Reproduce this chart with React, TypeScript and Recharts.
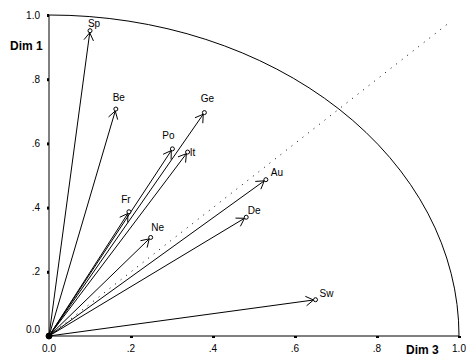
import { ScatterChart, Scatter, XAxis, YAxis, ReferenceLine, ReferenceDot } from 'recharts';

// country vectors: Dim 3 on x, Dim 1 on y
const countries = ['Sp', 'Be', 'Ge', 'Po', 'It', 'Fr', 'Ne', 'Au', 'De', 'Sw'];
const dim3 = [0.1, 0.163, 0.379, 0.301, 0.338, 0.195, 0.248, 0.529, 0.481, 0.65];
const dim1 = [0.951, 0.707, 0.696, 0.583, 0.573, 0.387, 0.307, 0.487, 0.37, 0.113];

const axisTicks = [0, 0.2, 0.4, 0.6, 0.8, 1];
const tickLabels = ['0.0', '.2', '.4', '.6', '.8', '1.0'];
const diagonalEnd = 0.97;

// label nudges (px) relative to each vector's end point
const labelNudge: Record<string, [number, number]> = {
  Sp: [4, -7],
  Be: [3, -12],
  Ge: [3, -14],
  Po: [-4, -13],
  It: [5, 0],
  Fr: [-3, -12],
  Ne: [7, -10],
  Au: [11, -7],
  De: [8, -7],
  Sw: [11, -6],
};

const FONT = '"Liberation Sans", Arial, sans-serif';

const points = countries.map((name, i) => ({ name, x: dim3[i], y: dim1[i] }));

function XTick(props: any) {
  const { x, y, payload } = props;
  const label = tickLabels[axisTicks.indexOf(payload.value)];
  return (
    <g>
      <rect x={x - 1} y={y} width={3} height={2} fill="#000" />
      <text x={x} y={y + 15.5} textAnchor="middle" fontSize={10} fontFamily={FONT} fill="#000">
        {label}
      </text>
    </g>
  );
}

function YTick(props: any) {
  const { x, y, payload } = props;
  const label = tickLabels[axisTicks.indexOf(payload.value)];
  const shift = payload.value === 0 ? -6.5 : 0;
  return (
    <g>
      <rect x={x - 2} y={y - 1} width={2} height={3} fill="#000" />
      <text x={x - 9} y={y + 3.5 + shift} textAnchor="end" fontSize={10} fontFamily={FONT} fill="#000">
        {label}
      </text>
    </g>
  );
}

function ArcShape(props: any) {
  const { x1, y1, x2, y2 } = props;
  const rx = Math.abs(x2 - x1);
  const ry = Math.abs(y2 - y1);
  return <path d={`M${x1},${y1} A${rx},${ry} 0 0 1 ${x2},${y2}`} fill="none" stroke="#000" strokeWidth={1} />;
}

function ArrowShape(props: any) {
  const { x1, y1, x2, y2 } = props;
  const dx = x2 - x1;
  const dy = y2 - y1;
  const len = Math.sqrt(dx * dx + dy * dy);
  const ux = dx / len;
  const uy = dy / len;
  const tx = x2 - ux * 2;
  const ty = y2 - uy * 2;
  const a = (32 * Math.PI) / 180;
  const h = 9;
  const ax = Math.cos(a) * ux - Math.sin(a) * uy;
  const ay = Math.sin(a) * ux + Math.cos(a) * uy;
  const bx = Math.cos(-a) * ux - Math.sin(-a) * uy;
  const by = Math.sin(-a) * ux + Math.cos(-a) * uy;
  return (
    <g stroke="#000" strokeWidth={1} fill="none">
      <line x1={x1} y1={y1} x2={tx} y2={ty} />
      <line x1={tx} y1={ty} x2={tx - ax * h} y2={ty - ay * h} />
      <line x1={tx} y1={ty} x2={tx - bx * h} y2={ty - by * h} />
    </g>
  );
}

function EndPoint(props: any) {
  const { cx, cy, payload } = props;
  const [nx, ny] = labelNudge[payload.name] ?? [6, -8];
  return (
    <g>
      <circle cx={cx} cy={cy} r={2} fill="#fff" stroke="#000" strokeWidth={1} />
      <text x={cx + nx} y={cy + ny + 3.5} textAnchor="middle" fontSize={10} fontFamily={FONT} fill="#000">
        {payload.name}
      </text>
    </g>
  );
}

export default function App() {
  return (
    <div style={{ position: 'absolute', left: 0, top: 0, width: 475, height: 359, background: '#fff' }}>
      <ScatterChart width={475} height={359} margin={{ top: 15, right: 16, bottom: 0, left: 8 }}>
        <XAxis
          type="number"
          dataKey="x"
          domain={[0, 1]}
          ticks={axisTicks}
          height={23}
          tickSize={0}
          tickMargin={0}
          tickLine={false}
          axisLine={{ stroke: '#000', strokeWidth: 1 }}
          tick={<XTick />}
        />
        <YAxis
          type="number"
          dataKey="y"
          domain={[0, 1]}
          ticks={axisTicks}
          width={41}
          tickSize={0}
          tickMargin={0}
          tickLine={false}
          axisLine={{ stroke: '#000', strokeWidth: 1 }}
          tick={<YTick />}
        />
        <ReferenceLine
          segment={[{ x: 0, y: 1 }, { x: 1, y: 0 }]}
          shape={<ArcShape />}
          ifOverflow="visible"
        />
        <ReferenceLine
          segment={[{ x: 0, y: 0 }, { x: diagonalEnd, y: diagonalEnd }]}
          stroke="#000"
          strokeWidth={1}
          strokeDasharray="1 6"
          ifOverflow="visible"
        />
        {points.map((p) => (
          <ReferenceLine
            key={p.name}
            segment={[{ x: 0, y: 0 }, { x: p.x, y: p.y }]}
            shape={<ArrowShape />}
            ifOverflow="visible"
          />
        ))}
        <Scatter data={points} shape={<EndPoint />} isAnimationActive={false} />
        <ReferenceDot x={0} y={0} r={3} fill="#000" stroke="#000" ifOverflow="visible" />
      </ScatterChart>
      <div
        style={{
          position: 'absolute',
          left: 10,
          top: 39,
          fontFamily: FONT,
          fontWeight: 'bold',
          fontSize: 12,
          color: '#000',
        }}
      >
        Dim 1
      </div>
      <div
        style={{
          position: 'absolute',
          left: 406,
          top: 343,
          fontFamily: FONT,
          fontWeight: 'bold',
          fontSize: 12,
          color: '#000',
        }}
      >
        Dim 3
      </div>
    </div>
  );
}
